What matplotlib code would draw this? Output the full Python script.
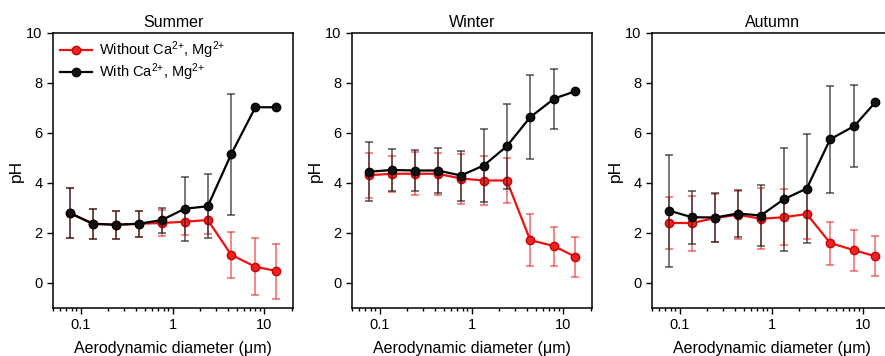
import matplotlib
matplotlib.use('Agg')
import matplotlib.pyplot as plt
from matplotlib.lines import Line2D
import numpy as np

plt.rcParams['font.family'] = ['Liberation Sans', 'DejaVu Sans']
plt.rcParams['mathtext.fontset'] = 'custom'
plt.rcParams['mathtext.rm'] = 'Liberation Sans'
plt.rcParams['mathtext.it'] = 'Liberation Sans'

# aerodynamic diameter midpoints (um)
diam = [0.076, 0.136, 0.244, 0.43, 0.766, 1.36, 2.42, 4.35, 7.98, 13.5]

seasons = ["Summer", "Winter", "Autumn"]

# pH without Ca2+, Mg2+
ph_without = {
    "Summer": [2.8, 2.37, 2.33, 2.37, 2.4, 2.45, 2.52, 1.13, 0.65, 0.48],
    "Winter": [4.31, 4.37, 4.37, 4.37, 4.18, 4.1, 4.1, 1.72, 1.47, 1.05],
    "Autumn": [2.4, 2.4, 2.6, 2.73, 2.57, 2.63, 2.76, 1.6, 1.31, 1.07],
}
err_without = {
    "Summer": [1.0, 0.6, 0.57, 0.52, 0.53, 0.52, 0.55, 0.93, 1.14, 1.1],
    "Winter": [0.9, 0.73, 0.86, 0.85, 1.0, 0.97, 0.9, 1.05, 0.78, 0.81],
    "Autumn": [1.04, 1.1, 0.95, 0.95, 1.22, 1.12, 1.0, 0.86, 0.83, 0.8],
}

# pH with Ca2+, Mg2+
ph_with = {
    "Summer": [2.8, 2.37, 2.33, 2.37, 2.52, 2.97, 3.07, 5.15, 7.03, 7.03],
    "Winter": [4.45, 4.52, 4.5, 4.5, 4.3, 4.7, 5.47, 6.63, 7.38, 7.67],
    "Autumn": [2.9, 2.63, 2.62, 2.78, 2.7, 3.35, 3.78, 5.75, 6.28, 7.23],
}
err_with = {
    "Summer": [1.0, 0.6, 0.57, 0.52, 0.5, 1.28, 1.28, 2.43, 0.0, 0.0],
    "Winter": [1.18, 0.84, 0.83, 0.89, 1.0, 1.47, 1.7, 1.68, 1.2, 0.0],
    "Autumn": [2.24, 1.07, 0.97, 0.95, 1.23, 2.06, 2.18, 2.13, 1.63, 0.0],
}

label_without = "Without Ca$^{2{+}}$, Mg$^{2{+}}$"
label_with = "With Ca$^{2{+}}$, Mg$^{2{+}}$"

fig = plt.figure(figsize=(8.85, 3.56), dpi=100)
lefts = [53 / 885, 352 / 885, 652 / 885]
w = 240 / 885
b = 48 / 356
h = 275 / 356

for i, s in enumerate(seasons):
    ax = fig.add_axes([lefts[i], b, w, h])
    ax.errorbar(diam, ph_without[s], yerr=err_without[s], color='#ee1111', lw=1.6,
                marker='o', ms=6, mec='#cc0000', mfc='#ee2222',
                ecolor=(0.93, 0.1, 0.1, 0.65), elinewidth=1.1, capsize=3, capthick=1.1,
                zorder=2)
    ax.errorbar(diam, ph_with[s], yerr=err_with[s], color='black', lw=1.6,
                marker='o', ms=6, mec='black', mfc='#111111',
                ecolor=(0.1, 0.1, 0.1, 0.75), elinewidth=1.1, capsize=3, capthick=1.1,
                zorder=3)
    ax.set_xscale('log')
    ax.set_xlim(0.05, 20.5)
    ax.set_ylim(-1, 10)
    ax.set_yticks([0, 2, 4, 6, 8, 10])
    ax.set_xticks([0.1, 1, 10])
    ax.set_xticklabels(['0.1', '1', '10'])
    ax.tick_params(axis='both', which='major', direction='out', length=4, width=1, labelsize=10.5)
    ax.tick_params(axis='both', which='minor', direction='out', length=2.5, width=1)
    ax.minorticks_on()
    ax.yaxis.set_minor_locator(matplotlib.ticker.NullLocator())
    for sp in ax.spines.values():
        sp.set_linewidth(1.1)
    ax.set_title(s, fontsize=11.5, pad=4)
    ax.set_ylabel("pH", fontsize=12.5, labelpad=2)
    ax.set_xlabel("Aerodynamic diameter (\u03bcm)", fontsize=11.5, labelpad=6)
    if i == 0:
        handles = [Line2D([], [], color='#ee1111', lw=1.6, marker='o', ms=6, mec='#cc0000', mfc='#ee2222'),
                   Line2D([], [], color='black', lw=1.6, marker='o', ms=6, mec='black', mfc='#111111')]
        ax.legend(handles, [label_without, label_with], loc='upper left', frameon=False,
                  fontsize=10.5, handlelength=2.2, borderaxespad=0.25, borderpad=0.2,
                  handletextpad=0.5, labelspacing=0.05)

plt.savefig("out.png", dpi=100)
